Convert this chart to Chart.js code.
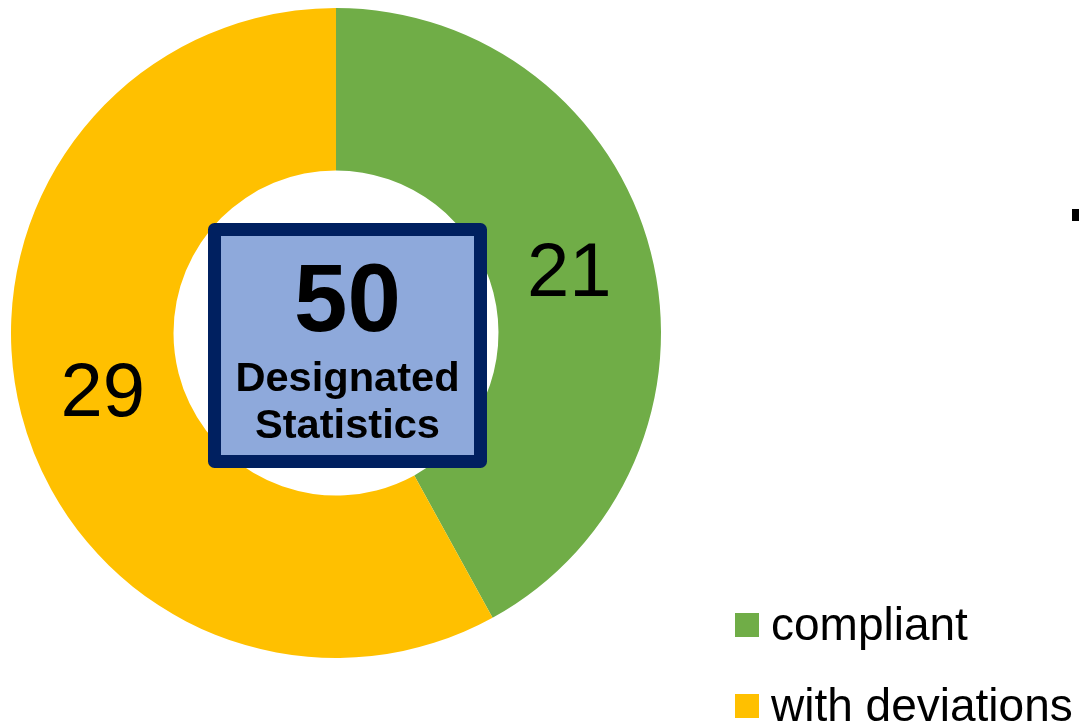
<!DOCTYPE html>
<html>
<head>
<meta charset="utf-8">
<script src="https://cdn.jsdelivr.net/npm/chart.js@4/dist/chart.umd.min.js"></script>
<style>
html,body{margin:0;padding:0;background:#fff;}
#wrap{width:1079px;height:723px;position:relative;}
</style>
</head>
<body>
<div id="wrap"><canvas id="c" width="1079" height="723"></canvas></div>
<script>
const categories = ["compliant", "with deviations"];
const values = [21, 29];
const colors = ["#70AD47", "#FFC000"];
const totalLabel = "50";
const centerLines = ["Designated", "Statistics"];

const FONT = '"Liberation Sans", Arial, sans-serif';

const overlay = {
  id: 'overlay',
  afterDatasetsDraw(chart, args, opts) {
    const ctx = chart.ctx;
    const meta = chart.getDatasetMeta(0);
    const arc0 = meta.data[0];
    const cx = arc0.x, cy = arc0.y;

    // value labels inside ring
    ctx.save();
    ctx.fillStyle = '#000';
    ctx.font = '76px ' + FONT;
    ctx.textAlign = 'center';
    ctx.textBaseline = 'middle';
    meta.data.forEach((a, i) => {
      const mid = (a.startAngle + a.endAngle) / 2;
      const r = (a.innerRadius + a.outerRadius) / 2 - 3;
      const x = cx + Math.cos(mid) * r;
      const y = cy + Math.sin(mid) * r;
      ctx.fillText(String(chart.data.datasets[0].data[i]), x, y + 2);
    });
    ctx.restore();

    // center box
    const bx = cx - 128, by = cy - 110, bw = 279, bh = 245, bwid = 13;
    ctx.save();
    ctx.fillStyle = '#8EA9DB';
    ctx.fillRect(bx + bwid, by + bwid, bw - 2 * bwid, bh - 2 * bwid);
    ctx.strokeStyle = '#002060';
    ctx.lineWidth = bwid;
    ctx.lineJoin = 'round';
    ctx.beginPath();
    ctx.rect(bx + bwid / 2, by + bwid / 2, bw - bwid, bh - bwid);
    ctx.stroke();
    const tx = bx + bw / 2;
    ctx.fillStyle = '#000';
    ctx.textAlign = 'center';
    ctx.textBaseline = 'alphabetic';
    ctx.font = 'bold 96px ' + FONT;
    ctx.fillText(totalLabel, tx, by + 108);
    ctx.font = 'bold 40px ' + FONT;
    ctx.save();
    ctx.translate(tx, 0);
    ctx.scale(1.04, 1);
    ctx.fillText(centerLines[0], 0, by + 168);
    ctx.fillText(centerLines[1], 0, by + 215);
    ctx.restore();
    ctx.restore();

    // legend
    ctx.save();
    ctx.font = '46px ' + FONT;
    ctx.textAlign = 'left';
    ctx.textBaseline = 'alphabetic';
    categories.forEach((c, i) => {
      const ly = 613 + i * 81;
      ctx.fillStyle = colors[i];
      ctx.fillRect(735, ly, 24, 24);
      ctx.fillStyle = '#000';
      ctx.fillText(c, 771, ly + 27);
    });
    // small stray mark at right edge
    ctx.fillStyle = '#000';
    ctx.fillRect(1072, 209, 7, 12);
    ctx.restore();
  }
};

new Chart(document.getElementById('c'), {
  type: 'doughnut',
  data: {
    labels: categories,
    datasets: [{
      data: values,
      backgroundColor: colors,
      borderWidth: 0,
      hoverOffset: 0
    }]
  },
  options: {
    responsive: false,
    animation: false,
    cutout: '50%',
    rotation: 0,
    layout: { padding: { left: 11, top: 8, right: 418, bottom: 65 } },
    plugins: {
      legend: { display: false },
      tooltip: { enabled: false }
    }
  },
  plugins: [overlay]
});
</script>
</body>
</html>
